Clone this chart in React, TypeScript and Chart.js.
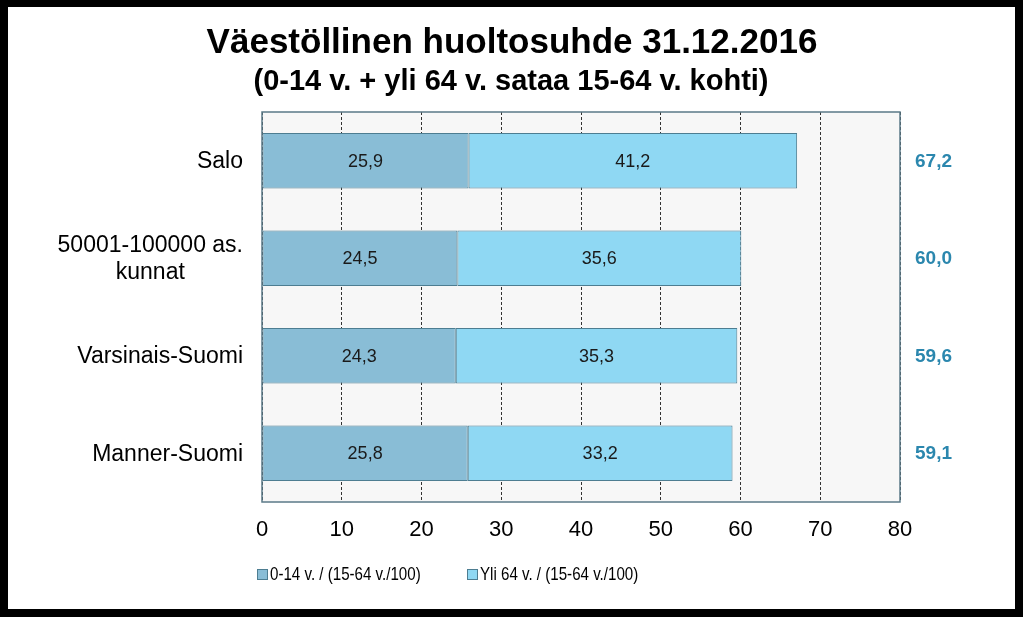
import React, { useEffect, useRef } from "react";
import { Chart, registerables } from "chart.js";
Chart.register(...registerables);

const categories: string[][] = [["Salo"], ["50001-100000 as.", "kunnat"], ["Varsinais-Suomi"], ["Manner-Suomi"]];
const seriesNames = ["0-14 v. / (15-64 v./100)", "Yli 64 v. / (15-64 v./100)"];
const youngValues = [25.9, 24.5, 24.3, 25.8];
const oldValues = [41.2, 35.6, 35.3, 33.2];
const totals = [67.2, 60.0, 59.6, 59.1];
const xMin = 0;
const xMax = 80;
const xStep = 10;
const titleText = "Väestöllinen huoltosuhde 31.12.2016";
const subtitleText = "(0-14 v. + yli 64 v. sataa 15-64 v. kohti)";

const FONT = '"Liberation Sans", Arial, sans-serif';
const colors = ["#89bdd6", "#8fd8f3"];
const barBorder = "#4d7d91";
const fmt = (v: number) => v.toFixed(1).replace(".", ",");

const decor = {
  id: "decor",
  beforeDraw(chart: any) {
    const { ctx, width, height, chartArea } = chart;
    ctx.save();
    ctx.fillStyle = "#000";
    ctx.fillRect(0, 0, width, height);
    ctx.fillStyle = "#fff";
    ctx.fillRect(8, 7, 1007, 602);
    ctx.fillStyle = "#f7f7f7";
    ctx.fillRect(chartArea.left, chartArea.top, chartArea.right - chartArea.left, chartArea.bottom - chartArea.top);
    ctx.restore();
  },
  afterDatasetsDraw(chart: any) {
    const { ctx, chartArea } = chart;
    const yScale = chart.scales.y;
    ctx.save();
    // plot border
    ctx.strokeStyle = "#5b7a88";
    ctx.lineWidth = 1.5;
    ctx.strokeRect(chartArea.left, chartArea.top, chartArea.right - chartArea.left, chartArea.bottom - chartArea.top);

    // value labels in segments
    ctx.fillStyle = "#1a1a1a";
    ctx.font = `18px ${FONT}`;
    ctx.textAlign = "center";
    ctx.textBaseline = "middle";
    chart.data.datasets.forEach((ds: any, di: number) => {
      const meta = chart.getDatasetMeta(di);
      meta.data.forEach((bar: any, i: number) => {
        const cx = (bar.x + bar.base) / 2;
        ctx.fillText(fmt(ds.data[i]), cx, bar.y + 1);
      });
    });

    // totals
    ctx.fillStyle = "#2b87ae";
    ctx.font = `bold 19px ${FONT}`;
    ctx.textAlign = "left";
    totals.forEach((t, i) => {
      ctx.fillText(fmt(t), 915, yScale.getPixelForValue(i) + 1);
    });

    // category labels
    ctx.fillStyle = "#000";
    ctx.font = `23px ${FONT}`;
    ctx.textAlign = "center";
    const rightX = 243;
    const lh = 27;
    categories.forEach((lines, i) => {
      const cy = yScale.getPixelForValue(i);
      const maxW = Math.max(...lines.map((l) => ctx.measureText(l).width));
      const cx = rightX - maxW / 2;
      const y0 = cy - ((lines.length - 1) * lh) / 2;
      lines.forEach((l, j) => ctx.fillText(l, cx, y0 + j * lh + 1));
    });

    // titles
    ctx.textAlign = "center";
    ctx.textBaseline = "alphabetic";
    ctx.font = `bold 35px ${FONT}`;
    ctx.fillText(titleText, 512, 53);
    ctx.font = `bold 29px ${FONT}`;
    ctx.fillText(subtitleText, 511, 90);

    // legend
    ctx.font = `18px ${FONT}`;
    ctx.textAlign = "left";
    ctx.textBaseline = "middle";
    const legendX = [257, 467];
    const ly = 575;
    chart.data.datasets.forEach((ds: any, di: number) => {
      const x = legendX[di];
      ctx.fillStyle = ds.backgroundColor;
      ctx.fillRect(x, ly - 6, 11, 11);
      ctx.strokeStyle = barBorder;
      ctx.lineWidth = 1;
      ctx.strokeRect(x + 0.5, ly - 5.5, 10, 10);
      ctx.fillStyle = "#000";
      ctx.save();
      ctx.translate(x + 13, ly);
      ctx.scale(0.84, 1);
      ctx.fillText(ds.label, 0, 0);
      ctx.restore();
    });
    ctx.restore();
  },
};

export default function App() {
  const ref = useRef<HTMLCanvasElement>(null);
  useEffect(() => {
    document.body.style.margin = "0";
    const chart = new Chart(ref.current!, {
      type: "bar",
      data: {
        labels: categories.map((c) => c.join(" ")),
        datasets: [
          { label: seriesNames[0], data: youngValues, backgroundColor: colors[0], borderColor: barBorder, borderWidth: 1, borderSkipped: false, barPercentage: 0.57, categoryPercentage: 1 },
          { label: seriesNames[1], data: oldValues, backgroundColor: colors[1], borderColor: barBorder, borderWidth: 1, borderSkipped: false, barPercentage: 0.57, categoryPercentage: 1 },
        ],
      },
      options: {
        indexAxis: "y",
        responsive: false,
        animation: false,
        devicePixelRatio: 1,
        layout: { padding: { left: 262, right: 123, top: 112, bottom: 75 } },
        plugins: { legend: { display: false }, title: { display: false }, tooltip: { enabled: false } },
        scales: {
          x: {
            stacked: true,
            min: xMin,
            max: xMax,
            ticks: { stepSize: xStep, color: "#000", font: { family: FONT, size: 22 }, padding: 15 },
            grid: { color: "#333", drawTicks: false, lineWidth: 1 },
            border: { display: false, dash: [3, 2] },
            afterFit: (s: any) => { s.height = 40; },
          },
          y: {
            stacked: true,
            ticks: { display: false },
            grid: { display: false },
            border: { display: false },
            afterFit: (s: any) => { s.width = 0; },
          },
        },
      },
      plugins: [decor],
    });
    return () => chart.destroy();
  }, []);
  return <canvas ref={ref} width={1023} height={617} style={{ display: "block" }} />;
}
